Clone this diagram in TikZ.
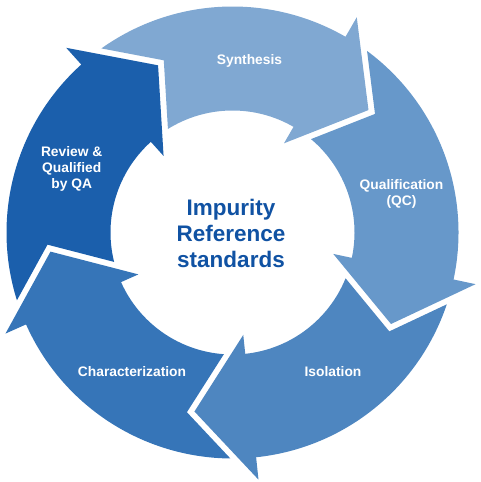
\documentclass[tikz,border=0pt]{standalone}
\usepackage{fontspec}
\setmainfont{Liberation Sans}
\definecolor{cSyn}{HTML}{80A8D2}
\definecolor{cQual}{HTML}{6798CA}
\definecolor{cIso}{HTML}{4E86C0}
\definecolor{cChar}{HTML}{3675B8}
\definecolor{cRev}{HTML}{1B5FAC}
\definecolor{cCenter}{HTML}{1052A3}
\tikzset{
  steplabel/.style={text=white, font=\bfseries\fontsize{13.8}{16}\selectfont, align=center, inner sep=0pt},
  centerlabel/.style={text=cCenter, font=\bfseries\fontsize{22.5}{26}\selectfont, align=center, inner sep=0pt}
}
\begin{document}
\begin{tikzpicture}[x=1pt,y=1pt]
\useasboundingbox (0,0) rectangle (480,482);
\begin{scope}[shift={(232.5,249.5)}]
\foreach \t/\c in {60/cSyn, -12/cQual, -84/cIso, -156/cChar, 132/cRev} {
  \fill[\c] ({\t+65.46}:226pt) arc[start angle={\t+65.46}, end angle={\t}, radius=226pt]
    -- ({\t}:248.5pt) -- ({\t-18}:183pt) -- ({\t}:103pt) -- ({\t}:122pt)
    arc[start angle={\t}, end angle={\t+61.95}, radius=122pt]
    -- ({\t+51.76}:185.4pt) -- cycle;
}
\end{scope}
\node[steplabel, anchor=base] (syn) at (249.5,417.7) {Synthesis};
\node[steplabel] (qual) at (401.5,288.4) {Qualification\\(QC)};
\node[steplabel, anchor=base] (iso) at (333,105.3) {Isolation};
\node[steplabel, anchor=base] (char) at (132,105.3) {Characterization};
\node[steplabel] (rev) at (71.7,313.05) {Review \&\\Qualified\\by QA};
\node[centerlabel] (center) at (231,248.35) {Impurity\\Reference\\standards};
\end{tikzpicture}
\end{document}
